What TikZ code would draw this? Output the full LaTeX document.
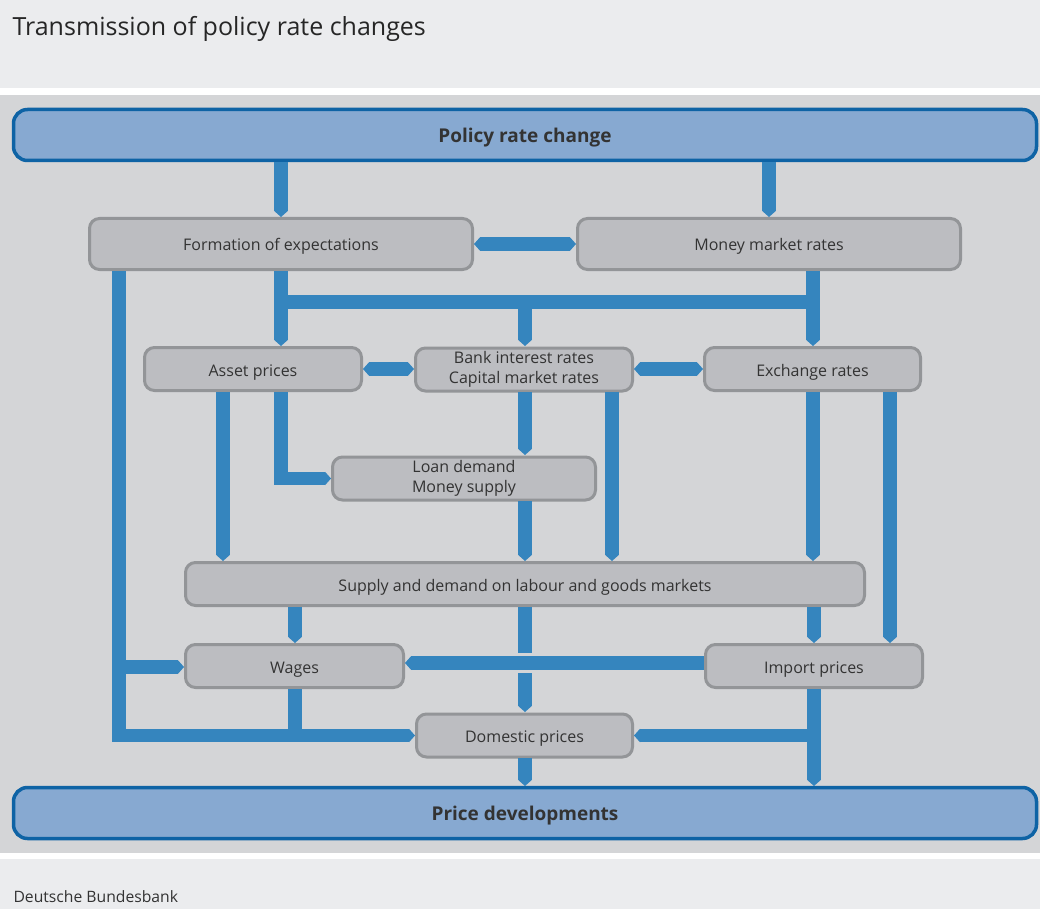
\documentclass[tikz,border=0pt]{standalone}
\usepackage{fontspec}
\setmainfont{Open Sans}
\usetikzlibrary{arrows.meta}

\definecolor{bandgray}{HTML}{EBECEE}
\definecolor{panelgray}{HTML}{D4D5D7}
\definecolor{boxgray}{HTML}{BCBDC1}
\definecolor{boxline}{HTML}{939598}
\definecolor{flowblue}{HTML}{3585BE}
\definecolor{barblue}{HTML}{87A9D1}
\definecolor{barline}{HTML}{0E63A5}
\definecolor{textgray}{HTML}{333333}

\begin{document}
\begin{tikzpicture}[
    x=1pt, y=-1pt,
    stagebox/.style={rectangle, rounded corners=10pt, draw=boxline, line width=3pt, fill=boxgray,
        minimum height=43pt, align=center, text=textgray, font=\fontsize{16}{20}\selectfont},
    stage/.style={stagebox, text height=16pt, text depth=2pt},
    mainbar/.style={rectangle, rounded corners=14pt, draw=barline, line width=3.5pt, fill=barblue,
        minimum width=1023pt, minimum height=51pt, text height=18pt, text depth=3pt,
        text=textgray, font=\fontsize{19}{22}\selectfont\bfseries},
    flow/.style={-{Triangle[length=6pt, width=13.5pt, line width=0pt]}, draw=flowblue, line width=13.5pt},
    twoway/.style={{Triangle[length=6pt, width=13.5pt, line width=0pt]}-{Triangle[length=6pt, width=13.5pt, line width=0pt]}, draw=flowblue, line width=13.5pt},
    plain/.style={draw=flowblue, line width=13.5pt}
]

% Background panels
\useasboundingbox (0,0) rectangle (1040,909);
\fill[white] (0,0) rectangle (1040,909);
\fill[bandgray] (0,0) rectangle (1040,88);
\fill[panelgray] (0,95) rectangle (1040,853);
\fill[bandgray] (0,859) rectangle (1040,909);

% Title and source
\node[anchor=base west, text=black!85, font=\fontsize{25}{30}\selectfont] (title) at (9,36) {Transmission of policy rate changes};
\node[anchor=base west, text=textgray, font=\fontsize{15.7}{18}\selectfont] (source) at (10,902) {Deutsche Bundesbank};

% Top and bottom bars
\node[mainbar] (policy) at (525,135) {Policy rate change};
\node[mainbar] (price) at (525,813) {Price developments};

% Channels
\node[stage, minimum width=383pt, minimum height=51pt] (expect) at (281,244) {Formation of expectations};
\node[stage, minimum width=383pt, minimum height=51pt] (money) at (769,244) {Money market rates};
\node[stage, minimum width=217pt] (asset) at (253,369) {Asset prices};
\node[stagebox, minimum width=217pt] (bank) at (524,369.5) {Bank interest rates\\Capital market rates};
\node[stage, minimum width=216pt] (exch) at (812.5,369) {Exchange rates};
\node[stagebox, minimum width=263pt] (loan) at (464,478.5) {Loan demand\\Money supply};
\node[stage, minimum width=679pt] (supply) at (525,584) {Supply and demand on labour and goods markets};
\node[stage, minimum width=218pt] (wages) at (294.5,666) {Wages};
\node[stage, minimum width=217pt] (import) at (814,666) {Import prices};
\node[stage, minimum width=216pt] (domestic) at (524.5,735.5) {Domestic prices};

% Helper points
\coordinate (leftdown) at (119,735.5);
\coordinate (wagesjoin) at (295,735.5);
\coordinate (importjoin) at (814,735.5);

% From policy rate
\draw[flow] (281,162) -- (281,217);
\draw[flow] (769,162) -- (money.north);
\draw[twoway] (expect.east) -- (money.west);

% Expectations and money market rates to asset prices, bank rates, exchange rates
\draw[flow] (281,271) -- (281,346);
\draw[plain] (281,302) -- (819.75,302);
\draw[flow] (813,271) -- (813,346);
\draw[flow] (525,302) -- (525,346);
\draw[twoway] (asset.east) -- (bank.west |- asset.east);
\draw[twoway] (bank.east |- exch.west) -- (exch.west);

% Towards loan demand and markets
\draw[flow] (223,392) -- (223,561);
\draw[flow] (281,392) |- (loan.west);
\draw[flow] (525,392) -- (525,455);
\draw[flow] (525,501) -- (525,561);
\draw[flow] (612,392) -- (612,561);
\draw[flow] (813,392) -- (813,561);
\draw[flow] (890,392) -- (890,643);

% Markets to wages, import and domestic prices
\draw[flow] (295,607) -- (295,643);
\draw[flow] (814,607) -- (814,643);
\draw[flow] (525,607) -- (525,712);
\draw[panelgray, line width=20pt] (516,663) -- (534,663);
\draw[flow] (704,663) -- (405,663);

% Left channel from expectations
\draw[flow] (119,271) -- (leftdown) -- (domestic.west);
\draw[flow] (119,667) -- (184,667);
\draw[plain] (wages.south -| wagesjoin) -- ([yshift=6.75pt]wagesjoin);

% Import prices to domestic prices and price developments
\draw[flow] (814,689) -- (814,786);
\draw[flow] ([xshift=6.75pt]importjoin) -- (domestic.east);
\draw[flow] (525,758) -- (525,786);

\end{tikzpicture}
\end{document}
